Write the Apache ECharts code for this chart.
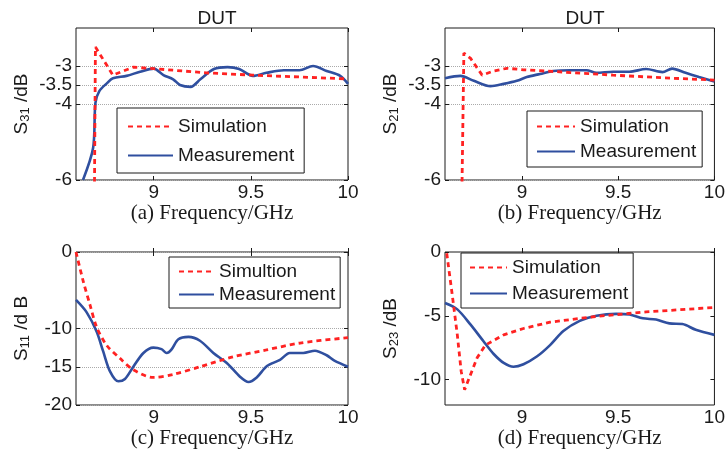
<!DOCTYPE html>
<html>
<head>
<meta charset="utf-8">
<script src="https://cdn.jsdelivr.net/npm/echarts@6/dist/echarts.min.js"></script>
<style>html,body{margin:0;padding:0;background:#fff}#main{width:728px;height:465px}</style>
</head>
<body>
<div id="main"></div>
<script>
// (a) S31
var fA_sim  = [8.694, 8.70, 8.79, 8.895, 9.0, 9.27, 9.51, 10];
var vA_sim  = [-7, -2.5, -3.24, -3.03, -3.07, -3.18, -3.24, -3.34];
var fA_meas = [8.636, 8.688, 8.70, 8.72, 8.76, 8.79, 8.86, 8.93, 9.0, 9.05, 9.1, 9.135, 9.19, 9.24, 9.31, 9.38, 9.44, 9.51, 9.58, 9.67, 9.75, 9.82, 9.89, 9.96, 10];
var vA_meas = [-6, -5.16, -3.97, -3.66, -3.45, -3.32, -3.26, -3.15, -3.07, -3.24, -3.35, -3.5, -3.55, -3.35, -3.08, -3.03, -3.08, -3.26, -3.18, -3.11, -3.11, -3.0, -3.13, -3.26, -3.47];
// (b) S21
var fB_sim  = [8.686, 8.698, 8.733, 8.793, 8.853, 8.922, 9.008, 9.215, 9.473, 9.73, 10];
var vB_sim  = [-7, -2.66, -2.8, -3.24, -3.13, -3.06, -3.1, -3.16, -3.24, -3.31, -3.37];
var fB_meas = [8.6, 8.68, 8.75, 8.836, 8.905, 8.973, 9.025, 9.094, 9.163, 9.25, 9.335, 9.387, 9.473, 9.559, 9.645, 9.73, 9.78, 9.85, 9.92, 10];
var vB_meas = [-3.32, -3.26, -3.39, -3.53, -3.47, -3.39, -3.29, -3.21, -3.13, -3.11, -3.11, -3.18, -3.15, -3.15, -3.08, -3.16, -3.07, -3.18, -3.29, -3.41];
// (c) S11
var fC_sim  = [8.6, 8.638, 8.672, 8.706, 8.758, 8.826, 8.895, 8.998, 9.1, 9.238, 9.41, 9.58, 9.753, 10];
var vC_sim  = [0, -3.9, -6.9, -9.8, -12.2, -13.9, -15.4, -16.4, -16.0, -15.0, -13.7, -12.8, -11.9, -11.2];
var fC_meas = [8.6, 8.655, 8.706, 8.74, 8.775, 8.818, 8.852, 8.895, 8.947, 8.998, 9.04, 9.067, 9.09, 9.127, 9.179, 9.238, 9.307, 9.376, 9.444, 9.488, 9.53, 9.583, 9.65, 9.70, 9.77, 9.83, 9.89, 9.93, 10];
var vC_meas = [-6.27, -7.89, -10.4, -13.0, -15.6, -16.9, -16.6, -15.0, -13.2, -12.5, -12.7, -13.2, -12.8, -11.4, -11.1, -11.6, -13.2, -14.5, -16.3, -17.0, -16.4, -14.9, -14.1, -13.2, -13.2, -12.9, -13.5, -14.2, -15.0];
// (d) S23
var fD_sim  = [8.609, 8.638, 8.664, 8.684, 8.702, 8.733, 8.767, 8.81, 8.905, 9.008, 9.146, 9.387, 9.645, 10];
var vD_sim  = [-0.1, -3.4, -6.5, -9.35, -10.8, -9.6, -8.3, -7.3, -6.5, -6.0, -5.5, -5.05, -4.7, -4.35];
var fD_meas = [8.6, 8.664, 8.733, 8.80, 8.853, 8.905, 8.956, 9.008, 9.077, 9.146, 9.215, 9.3, 9.387, 9.49, 9.559, 9.628, 9.697, 9.766, 9.834, 9.903, 10];
var vD_meas = [-4.0, -4.5, -5.7, -7.0, -8.0, -8.7, -9.0, -8.8, -8.2, -7.3, -6.2, -5.4, -5.0, -4.85, -4.9, -5.2, -5.3, -5.6, -5.65, -6.1, -6.5];

var xTicks = [9, 9.5, 10];
var yTicksAB = [-6, -4, -3.5, -3];
var yTicksC = [-20, -15, -10, 0];
var yTicksD = [-10, -5, 0];

function pair(xs, ys) {
    var out = [];
    for (var i = 0; i < xs.length; i++) out.push([xs[i], ys[i]]);
    return out;
}

var RED = '#ff2222', BLUE = '#2f4f9f', INK = '#1a1a1a';
var sans = 'Liberation Sans', serif = 'Liberation Serif';

var panels = [
    {grid: {left: 76, top: 28, width: 272, height: 152}, ymin: -6, ymax: -2, yTicks: yTicksAB, grid_lines: true,
     ylab: '{s|S}{sub|31}{s| /dB}', xlab: '(a) Frequency/GHz', simName: 'Simulation',
     sim: pair(fA_sim, vA_sim), meas: pair(fA_meas, vA_meas), simSmooth: false,
     legend: {left: 117, top: 108, itemWidth: 45, itemGap: 10, padding: [9, 10, 8, 10]}},
    {grid: {left: 445, top: 28, width: 271, height: 152}, ymin: -6, ymax: -2, yTicks: yTicksAB, grid_lines: true,
     ylab: '{s|S}{sub|21}{s| /dB}', xlab: '(b) Frequency/GHz', simName: 'Simulation',
     sim: pair(fB_sim, vB_sim), meas: pair(fB_meas, vB_meas), simSmooth: false,
     legend: {left: 527, top: 111, itemWidth: 38, itemGap: 6, padding: [6, 6, 6, 9]}},
    {grid: {left: 76, top: 252, width: 272, height: 153}, ymin: -20, ymax: 0, yTicks: yTicksC, grid_lines: true,
     ylab: '{s|S}{sub|11}{s| /d B}', xlab: '(c) Frequency/GHz', simName: 'Simultion',
     sim: pair(fC_sim, vC_sim), meas: pair(fC_meas, vC_meas), simSmooth: 0.3,
     legend: {left: 169, top: 257, itemWidth: 35, itemGap: 4, padding: [5, 5, 4, 9]}},
    {grid: {left: 445, top: 252, width: 271, height: 153}, ymin: -12, ymax: 0, yTicks: yTicksD, grid_lines: false,
     ylab: '{s|S}{sub|23}{s| /dB}', xlab: '(d) Frequency/GHz', simName: 'Simulation',
     sim: pair(fD_sim, vD_sim), meas: pair(fD_meas, vD_meas), simSmooth: false,
     legend: {left: 461, top: 253, itemWidth: 37, itemGap: 7, padding: [5, 5, 5, 8]}}
];

var grids = [], xAxes = [], yAxes = [], series = [], legends = [];
panels.forEach(function (p, i) {
    grids.push(Object.assign({show: true, borderColor: INK, borderWidth: 1, backgroundColor: '#fff'}, p.grid));
    // bottom + top x axes
    xAxes.push({
        type: 'value', gridIndex: i, min: 8.6, max: 10, position: 'bottom',
        name: p.xlab, nameLocation: 'middle', nameGap: 22,
        nameTextStyle: {fontFamily: serif, fontSize: 21, color: INK},
        axisLine: {show: false},
        axisTick: {inside: true, length: 4, customValues: xTicks, lineStyle: {color: INK}},
        axisLabel: {margin: 3, fontFamily: sans, fontSize: 19, color: INK, customValues: xTicks},
        splitLine: {show: false}
    });
    xAxes.push({
        type: 'value', gridIndex: i, min: 8.6, max: 10, position: 'top',
        axisLine: {show: false},
        axisTick: {inside: true, length: 4, customValues: xTicks, lineStyle: {color: INK}},
        axisLabel: {show: false}, splitLine: {show: false}
    });
    yAxes.push({
        type: 'value', gridIndex: i, min: p.ymin, max: p.ymax, position: 'left',
        name: p.ylab, nameLocation: 'middle', nameRotate: 90, nameGap: 44,
        nameTextStyle: {
            rich: {
                s: {fontFamily: sans, fontSize: 19, color: INK},
                sub: {fontFamily: sans, fontSize: 13, color: INK, verticalAlign: 'bottom', padding: [7, 0, 0, 0]}
            }
        },
        axisLine: {show: false},
        axisTick: {inside: true, length: 4, customValues: p.yTicks, lineStyle: {color: INK}},
        axisLabel: {margin: 4, fontFamily: sans, fontSize: 19, color: INK, customValues: p.yTicks},
        splitLine: {show: p.grid_lines, lineStyle: {type: 'dotted', color: '#aaa', width: 1}}
    });
    yAxes.push({
        type: 'value', gridIndex: i, min: p.ymin, max: p.ymax, position: 'right',
        axisLine: {show: false},
        axisTick: {inside: true, length: 4, customValues: p.yTicks, lineStyle: {color: INK}},
        axisLabel: {show: false}, splitLine: {show: false}
    });
    series.push({
        name: p.simName, type: 'line', xAxisIndex: 2 * i, yAxisIndex: 2 * i,
        data: p.sim, symbol: 'none', smooth: p.simSmooth, clip: true,
        lineStyle: {color: RED, width: 2.8, type: [5, 4]}, itemStyle: {color: RED}, z: 3
    });
    series.push({
        name: 'Measurement', type: 'line', xAxisIndex: 2 * i, yAxisIndex: 2 * i,
        data: p.meas, symbol: 'none', smooth: 0.3, clip: true,
        lineStyle: {color: BLUE, width: 2.6}, itemStyle: {color: BLUE}, z: 2
    });
    legends.push(Object.assign({
        orient: 'vertical', data: [p.simName, 'Measurement'], itemHeight: 14,
        backgroundColor: '#fff', borderColor: INK, borderWidth: 1, borderRadius: 0,
        selectedMode: false,
        itemStyle: {opacity: 0},
        textStyle: {fontFamily: sans, fontSize: 19, color: INK}
    }, p.legend));
});

var myChart = echarts.init(document.getElementById('main'), null, {renderer: 'canvas'});
var option = {
    backgroundColor: '#fff',
    animation: false,
    title: [
        {text: 'DUT', left: 212, top: 4, textAlign: 'center', textStyle: {fontFamily: sans, fontSize: 19, fontWeight: 'normal', color: INK}},
        {text: 'DUT', left: 580, top: 4, textAlign: 'center', textStyle: {fontFamily: sans, fontSize: 19, fontWeight: 'normal', color: INK}}
    ],
    legend: legends,
    grid: grids,
    xAxis: xAxes,
    yAxis: yAxes,
    series: series
};
myChart.setOption(option);
</script>
</body>
</html>
